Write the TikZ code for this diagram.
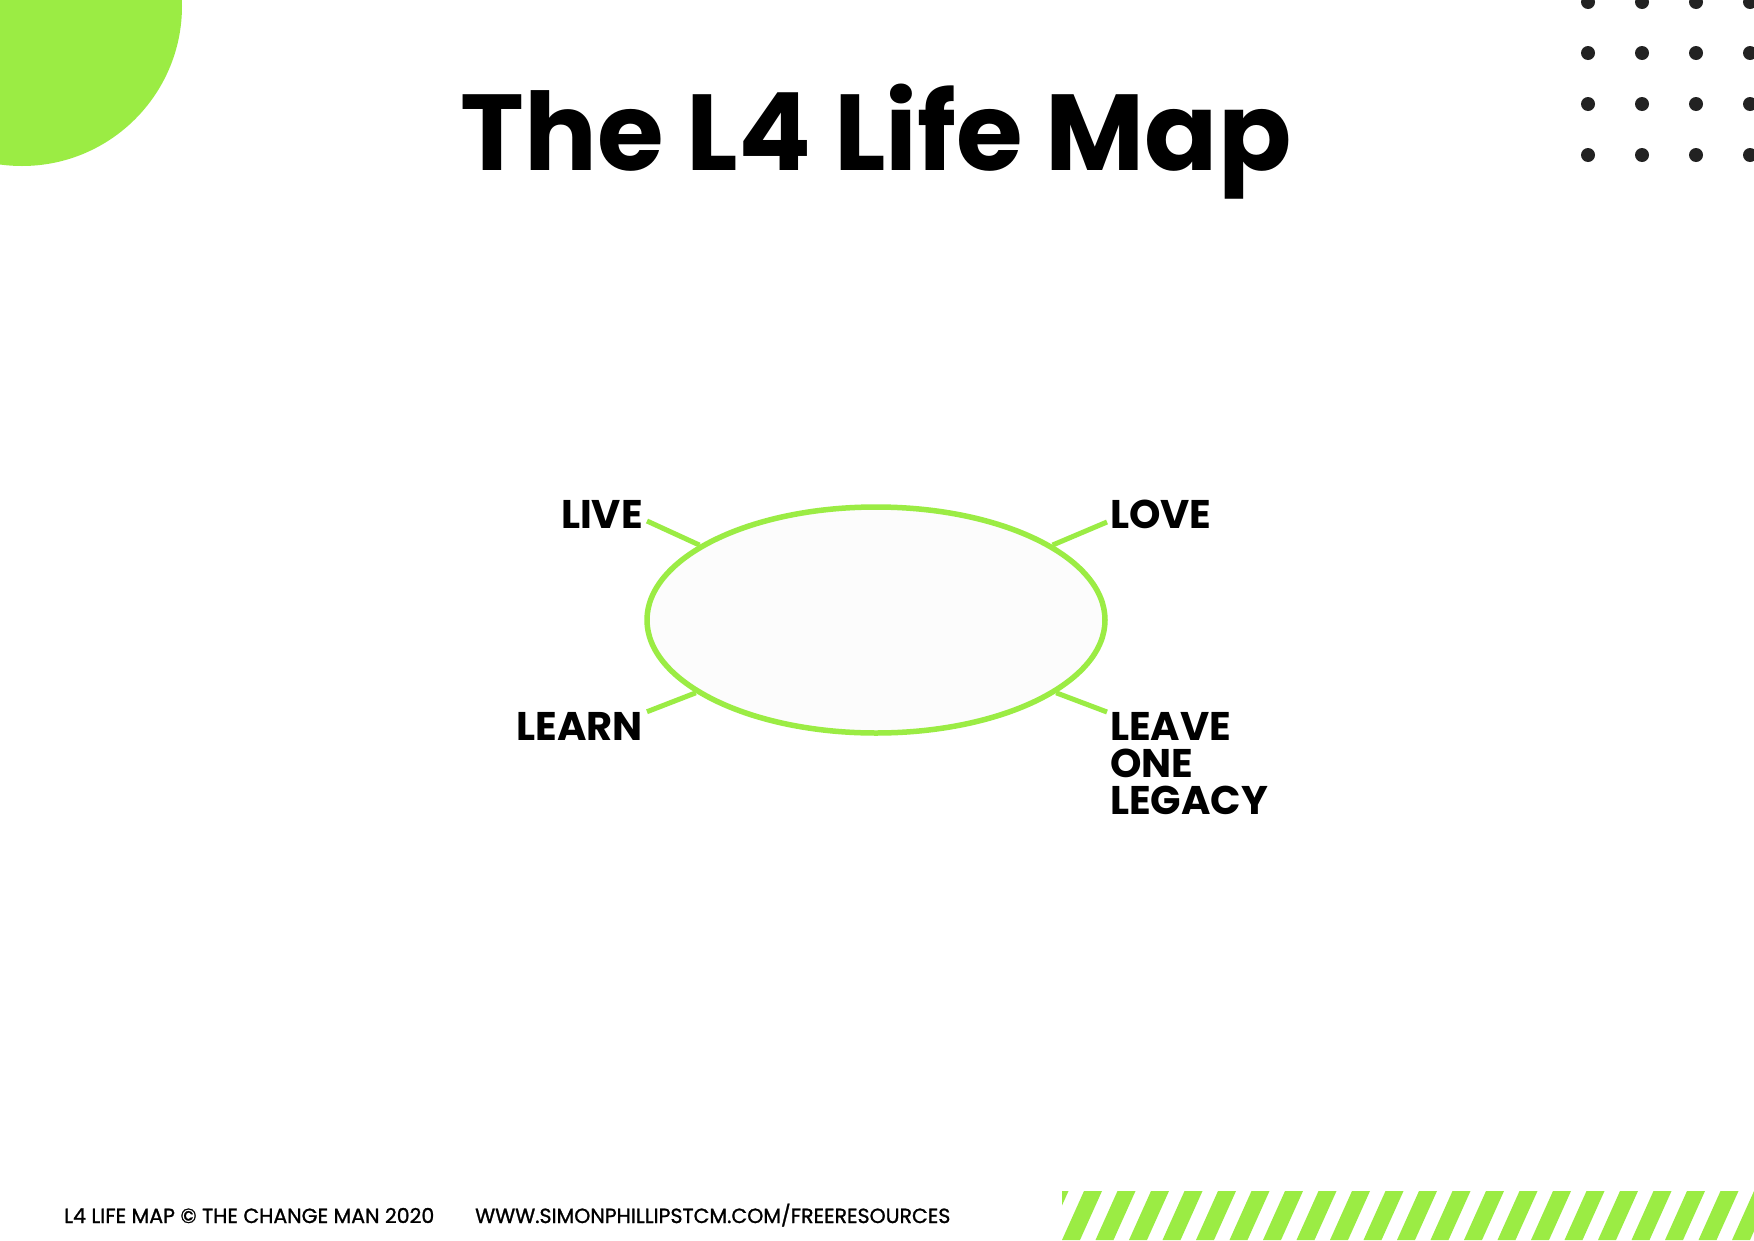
\documentclass[tikz,border=0pt]{standalone}
\usepackage{fontspec}
\setmainfont{Poppins}
\newfontfamily\footfont{Poppins}[FakeBold=1.2]
\usetikzlibrary{shapes.geometric}

\definecolor{lime}{RGB}{155,236,68}
\definecolor{dotgray}{RGB}{34,34,34}
\definecolor{hubfill}{RGB}{252,252,252}

\begin{document}
\begin{tikzpicture}[x=1pt,y=-1pt,
  hub/.style={ellipse,draw=lime,line width=5.5pt,fill=hubfill,
    minimum width=458pt,minimum height=226pt,inner sep=0pt},
  word/.style={font=\fontsize{40}{37}\selectfont\bfseries,inner sep=0pt,align=left},
  spoke/.style={draw=lime,line width=5pt},
  foot/.style={font=\footfont\fontsize{20.5}{22}\selectfont,inner sep=0pt,anchor=base west}]
  \useasboundingbox (0,0) rectangle (1754,1240);
  \fill[white] (0,0) rectangle (1754,1240);
  % corner decorations
  \fill[lime] (22,6) circle[radius=160pt];
  \foreach \c in {0,...,3}
    \foreach \r in {0,...,3}
      \fill[dotgray] (1588+54*\c,2+51*\r) circle[radius=7pt];
  \begin{scope}
    \clip (1062,1191) rectangle (1754,1240);
    \foreach \i in {-1,...,21}
      \fill[lime] (1062+33.5*\i,1240) -- ++(18,0) -- ++(22,-49) -- ++(-18,0) -- cycle;
  \end{scope}
  % title
  \node[font=\fontsize{108}{110}\selectfont\bfseries,inner sep=0pt,anchor=base] (title) at (876,170) {The L4 Life Map};
  % map
  \node[hub] (hub) at (876,620) {};
  \node[word,anchor=base east] (live) at (643,528) {LIVE};
  \node[word,anchor=base west] (love) at (1110,528) {LOVE};
  \node[word,anchor=base east] (learn) at (643,740) {LEARN};
  \node[word,anchor=north west] (leave) at (1110,712) {LEAVE\\ONE\\LEGACY};
  \draw[spoke] ([xshift=4pt,yshift=7pt]live.base east) -- (hub.157);
  \draw[spoke] ([xshift=-3pt,yshift=6pt]love.base west) -- (hub.23);
  \draw[spoke] ([xshift=4pt]learn.north east) -- (hub.202);
  \draw[spoke] ([xshift=-3pt]leave.north west) -- (hub.338);
  % footer
  \node[foot] (credit) at (64,1223) {L4 LIFE MAP © THE CHANGE MAN 2020};
  \node[foot] (site) at (475,1223) {WWW.SIMONPHILLIPSTCM.COM/FREERESOURCES};
\end{tikzpicture}
\end{document}
